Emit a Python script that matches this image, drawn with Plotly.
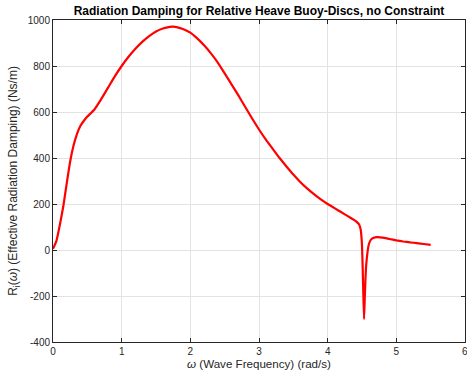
import plotly.graph_objects as go

omega = [0, 0.05, 0.1, 0.15, 0.2, 0.25, 0.3, 0.35, 0.4, 0.45, 0.5, 0.6, 0.7, 0.8, 0.9,
         1.0, 1.1, 1.2, 1.3, 1.4, 1.5, 1.6, 1.7, 1.75, 1.8, 1.9, 2.0, 2.1, 2.2, 2.3,
         2.4, 2.5, 2.6, 2.7, 2.8, 2.9, 3.0, 3.1, 3.2, 3.3, 3.4, 3.5, 3.6, 3.7, 3.8,
         3.9, 4.0, 4.1, 4.2, 4.3, 4.35, 4.4, 4.43, 4.46, 4.48, 4.49, 4.50, 4.51, 4.52,
         4.53, 4.54, 4.55, 4.56, 4.58, 4.60, 4.63, 4.67, 4.72, 4.8, 4.9, 5.0, 5.1,
         5.2, 5.3, 5.4, 5.5]
damping = [5, 40, 110, 190, 290, 385, 455, 505, 540, 562, 580, 610, 655, 705, 755,
           800, 840, 875, 905, 930, 950, 963, 970, 971, 969, 960, 945, 920, 890, 855,
           815, 768, 720, 672, 622, 572, 524, 480, 440, 400, 363, 328, 296, 268, 243,
           220, 200, 182, 164, 146, 137, 128, 120, 110, 90, 65, 20, -80, -200,
           -300, -210, -130, -70, -10, 25, 45, 53, 56, 54, 48, 42, 37,
           33, 30, 26, 22]

x_ticks = [0, 1, 2, 3, 4, 5, 6]
y_ticks = [-400, -200, 0, 200, 400, 600, 800, 1000]

FONT = "Liberation Sans, Arial, sans-serif"

fig = go.Figure()
fig.add_trace(go.Scatter(x=omega, y=damping, mode="lines",
                         line=dict(color="#ff0000", width=2.2, shape="spline", smoothing=0.4)))

axis_common = dict(
    showgrid=True, gridcolor="#e3e3e3", gridwidth=1,
    showline=True, linecolor="#262626", linewidth=1, mirror="ticks",
    ticks="inside", ticklen=4, tickcolor="#262626", tickwidth=1,
    zeroline=False,
    tickfont=dict(family=FONT, size=10, color="#262626"),
)

fig.update_layout(
    width=467, height=377,
    margin=dict(l=53, r=2, t=20, b=35),
    paper_bgcolor="white", plot_bgcolor="white",
    showlegend=False,
    title=dict(text="<b>Radiation Damping for Relative Heave Buoy-Discs, no Constraint</b>",
               x=0.5, xref="paper", y=1 - 11/377, yref="container",
               xanchor="center", yanchor="middle",
               font=dict(family=FONT, size=12, color="black")),
    xaxis=dict(range=[0, 6], tickvals=x_ticks[:-1], ticktext=[str(v) for v in x_ticks[:-1]],
               title=dict(text="<i>ω</i> (Wave Frequency) (rad/s)", standoff=3,
                          font=dict(family=FONT, size=11.6, color="#262626")),
               **axis_common),
    yaxis=dict(range=[-400, 1000], tickvals=y_ticks, ticktext=[str(v) for v in y_ticks],
               title=dict(text="R<sub>i</sub>(<i>ω</i>) (Effective Radiation Damping) (Ns/m)", standoff=7,
                          font=dict(family=FONT, size=12, color="#262626")),
               **axis_common),
)

# last x tick label sits at the right edge of the figure
fig.add_annotation(x=x_ticks[-1], y=0, xref="x", yref="paper", text=str(x_ticks[-1]),
                   showarrow=False, yanchor="top", yshift=-2, xanchor="center",
                   font=dict(family=FONT, size=10, color="#262626"))

fig.write_html("out.html")
